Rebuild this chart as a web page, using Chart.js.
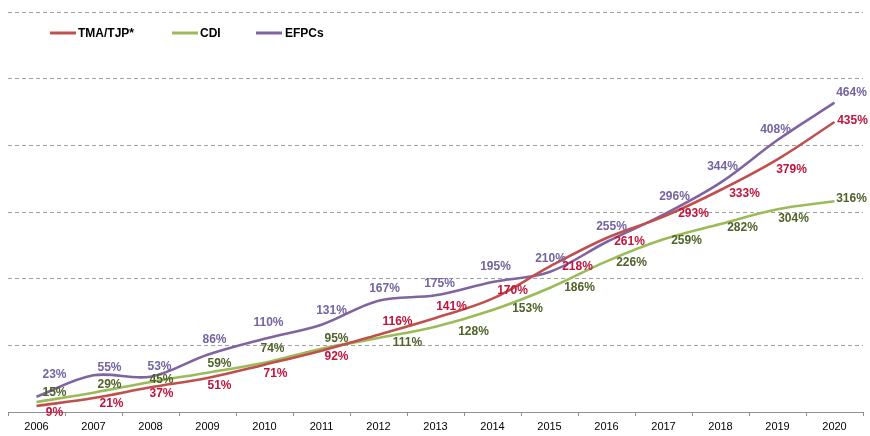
<!DOCTYPE html>
<html>
<head>
<meta charset="utf-8">
<script src="https://cdn.jsdelivr.net/npm/chart.js@4/dist/chart.umd.min.js"></script>
<style>
html,body{margin:0;padding:0;background:#fff;}
#wrap{width:870px;height:436px;}
</style>
</head>
<body>
<div id="wrap"><canvas id="c" width="870" height="436"></canvas></div>
<script>
const years = ['2006','2007','2008','2009','2010','2011','2012','2013','2014','2015','2016','2017','2018','2019','2020'];
const tmaValues  = [9,21,37,51,71,92,116,141,170,218,261,293,333,379,435];
const cdiValues  = [15,29,45,59,74,95,111,128,153,186,226,259,282,304,316];
const efpcValues = [23,55,53,86,110,131,167,175,195,210,255,296,344,408,464];
const seriesNames = ['TMA/TJP*','CDI','EFPCs'];

// label placement (pixel offsets from each point), layout only
const labelOffsets = [
  [[18,7],[18,6],[11,6],[12,8],[11,9],[15,6],[19,-13],[16,-11],[20,-8],[28,0],[23,4],[30,-3],[24,4],[14,10],[18,-1]],
  [[18,-9],[16,-8],[11,-2],[12,-9],[8,-14],[15,-10],[29,5],[38,5],[35,-1],[30,0],[25,1],[23,1],[22,4],[16,9],[17,-3]],
  [[18,-22],[16,-8],[9,-10],[7,-15],[4,-16],[10,-14],[6,-12],[4,-12],[3,-15],[1,-13],[5,-15],[11,-18],[2,-16],[-2,-10],[17,-10]]
];
const lineColors = ['#C0504D','#9BBB59','#8064A2'];
const textColors = ['#C0143C','#4F6228','#7464A0'];
const FONT = '"Liberation Sans", Arial, sans-serif';

const labelPlugin = {
  id:'labels',
  afterDatasetsDraw(chart){
    const ctx = chart.ctx;
    ctx.save();
    ctx.font = 'bold 12px ' + FONT;
    ctx.textAlign = 'center';
    ctx.textBaseline = 'middle';
    chart.data.datasets.forEach((ds,di)=>{
      const meta = chart.getDatasetMeta(di);
      meta.data.forEach((pt,i)=>{
        const off = labelOffsets[di][i];
        ctx.fillStyle = textColors[di];
        ctx.fillText(ds.data[i] + '%', pt.x + off[0], pt.y + off[1]);
      });
    });
    ctx.restore();
  }
};

const legendPlugin = {
  id:'customLegend',
  afterDraw(chart){
    const ctx = chart.ctx;
    const items = [[50,78],[172,200],[256,285]];
    ctx.save();
    ctx.font = 'bold 12px ' + FONT;
    ctx.textBaseline = 'middle';
    ctx.textAlign = 'left';
    items.forEach((it,i)=>{
      ctx.strokeStyle = lineColors[i];
      ctx.lineWidth = 3;
      ctx.beginPath();
      ctx.moveTo(it[0],33);
      ctx.lineTo(it[0]+26,33);
      ctx.stroke();
      ctx.fillStyle = '#000';
      ctx.fillText(seriesNames[i], it[1], 33.5);
    });
    ctx.restore();
  }
};

const values = [tmaValues, cdiValues, efpcValues];
new Chart(document.getElementById('c'), {
  type:'line',
  data:{
    labels: years,
    datasets: values.map((v,i)=>({
      label: seriesNames[i],
      data: v,
      borderColor: lineColors[i],
      backgroundColor: lineColors[i],
      borderWidth: 2.6,
      pointRadius: 0,
      tension: 0.35,
      fill: false
    }))
  },
  options:{
    responsive:false,
    animation:false,
    layout:{padding:{left:8,right:7,top:12,bottom:0}},
    plugins:{legend:{display:false},tooltip:{enabled:false}},
    scales:{
      x:{
        offset:true,
        grid:{offset:true,drawOnChartArea:false,drawTicks:true,tickLength:4,color:'#909090'},
        border:{display:true,color:'#909090',width:1},
        ticks:{font:{family:FONT,size:11},color:'#000',padding:4,maxRotation:0,autoSkip:false},
        afterFit(s){ s.height = 24; }
      },
      y:{
        min:0,max:600,
        ticks:{display:false,stepSize:100},
        grid:{drawTicks:false,color:(c)=>c.tick && c.tick.value===0 ? 'rgba(0,0,0,0)' : '#A0A0A0',lineWidth:1},
        border:{display:false,dash:[4,3]},
        afterFit(s){ s.width = 0; }
      }
    }
  },
  plugins:[labelPlugin, legendPlugin]
});
</script>
</body>
</html>
